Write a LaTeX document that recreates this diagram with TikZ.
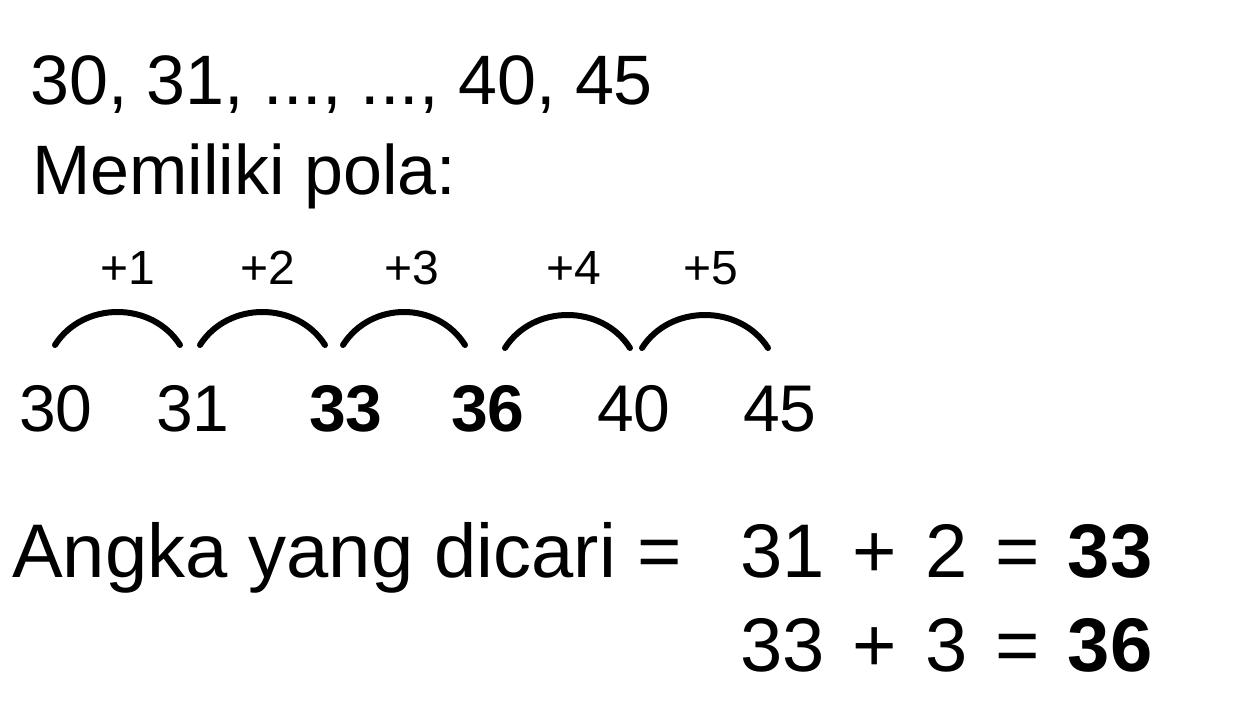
\documentclass[tikz,border=0pt]{standalone}
\usepackage{fontspec}
\setmainfont{Liberation Sans}
\newcommand{\eqgap}{\hspace{28pt}}
\tikzset{
  bigtext/.style={inner sep=0pt,anchor=base west,font=\fontsize{70}{74}\selectfont},
  numtext/.style={inner sep=0pt,anchor=base,font=\fontsize{66}{70}\selectfont},
  plustext/.style={inner sep=0pt,anchor=base,font=\fontsize{48}{52}\selectfont},
  arcline/.style={line width=6pt,line cap=round},
}
\begin{document}
\begin{tikzpicture}[x=1pt,y=1pt]
        \useasboundingbox (0,0) rectangle (1240,704);
        
        % question and heading
        \node[bigtext] (deret) at (30,599) {30, 31, ..., ..., 40, 45};
        \node[bigtext] (judul) at (32,509) {Memiliki pola:};
        
        % numbers of the pattern
        \node[numtext] (n30) at (56,272)  {30};
        \node[numtext] (n31) at (193,272) {31};
        \node[numtext] (n33) at (346,272) {\textbf{33}};
        \node[numtext] (n36) at (488,272) {\textbf{36}};
        \node[numtext] (n40) at (634,272) {40};
        \node[numtext] (n45) at (780,272) {45};
        
        % arcs between the numbers
        \draw[arcline] ([xshift=-1pt,yshift=87pt]n30.base) .. controls ++(28,44) and ++(-28,44) .. ([xshift=-13pt,yshift=87pt]n31.base);
        \draw[arcline] ([xshift=7pt,yshift=87pt]n31.base)  .. controls ++(28,44) and ++(-28,44) .. ([xshift=-21pt,yshift=87pt]n33.base);
        \draw[arcline] ([xshift=-3pt,yshift=87pt]n33.base) .. controls ++(28,44) and ++(-28,44) .. ([xshift=-23pt,yshift=87pt]n36.base);
        \draw[arcline] ([xshift=17pt,yshift=84pt]n36.base) .. controls ++(28,44) and ++(-28,44) .. ([xshift=-4pt,yshift=84pt]n40.base);
        \draw[arcline] ([xshift=8pt,yshift=84pt]n40.base)  .. controls ++(28,44) and ++(-28,44) .. ([xshift=-12pt,yshift=84pt]n45.base);
        
        % steps above the arcs
        \node[plustext] (p1) at (128,419) {+1};
        \node[plustext] (p2) at (268,419) {+2};
        \node[plustext] (p3) at (412,419) {+3};
        \node[plustext] (p4) at (574,419) {+4};
        \node[plustext] (p5) at (711,419) {+5};
        
        % answer
        \node[bigtext,font=\fontsize{76}{80}\selectfont] (angka) at (12,126) {Angka yang dicari =};
        \node[bigtext,font=\fontsize{76}{80}\selectfont] (hasil1) at (740,126) {31\eqgap+\eqgap2\eqgap=\eqgap\textbf{33}};
        \node[bigtext,font=\fontsize{76}{80}\selectfont] (hasil2) at (740,32)  {33\eqgap+\eqgap3\eqgap=\eqgap\textbf{36}};
\end{tikzpicture}
\end{document}
